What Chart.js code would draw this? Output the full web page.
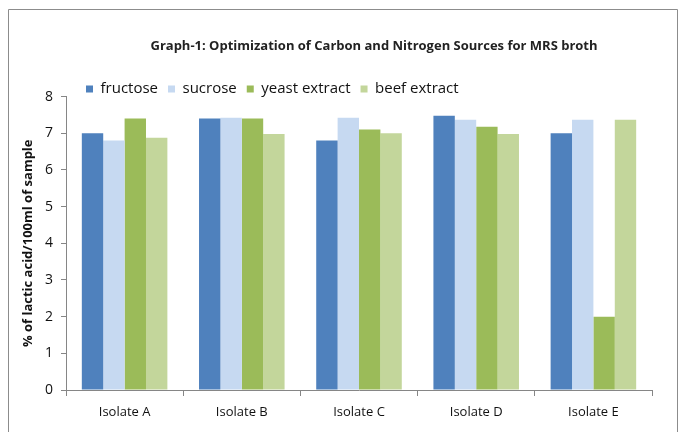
<!DOCTYPE html>
<html>
<head>
<meta charset="utf-8">
<script src="https://cdn.jsdelivr.net/npm/chart.js@4.4.0/dist/chart.umd.min.js"></script>
<style>
  html, body { margin: 0; padding: 0; background: #fff; }
  #wrap { width: 679px; height: 432px; }
</style>
</head>
<body>
<div id="wrap"><canvas id="my-chart"></canvas></div>
<script>
var isolates = ['Isolate A', 'Isolate B', 'Isolate C', 'Isolate D', 'Isolate E'];
var fructose = [7.0, 7.4, 6.8, 7.48, 7.0];
var sucrose = [6.8, 7.42, 7.42, 7.37, 7.37];
var yeastExtract = [7.4, 7.4, 7.1, 7.18, 2.0];
var beefExtract = [6.88, 6.98, 7.0, 6.98, 7.37];
var yTicks = [0, 1, 2, 3, 4, 5, 6, 7, 8];

var font = "'Open Sans', 'DejaVu Sans', sans-serif";
var axisGray = '#868686';

// frame round the picture and small nudges for title / legend
var framePlugin = {
    id: 'frame',
    afterLayout: function (chart) {
        chart.titleBlock.left += 38;
        chart.titleBlock.right += 38;
        chart.legend.left += 56;
        chart.legend.right += 56;
        chart.legend.top += 10;
        chart.legend.bottom += 10;
    },
    afterDraw: function (chart) {
        var c = chart.ctx;
        c.save();
        c.strokeStyle = '#8c8c8c';
        c.lineWidth = 1;
        c.beginPath();
        c.moveTo(8.5, 440);
        c.lineTo(8.5, 9.5);
        c.lineTo(677.5, 9.5);
        c.lineTo(677.5, 440);
        c.stroke();
        c.restore();
    }
};

var ctx = document.getElementById('my-chart');

var myChart = new Chart(ctx, {
    type: 'bar',
    data: {
        labels: isolates,
        datasets: [
            { label: 'fructose', data: fructose, backgroundColor: '#4F81BD' },
            { label: 'sucrose', data: sucrose, backgroundColor: '#C6D9F1' },
            { label: 'yeast extract', data: yeastExtract, backgroundColor: '#9BBB59' },
            { label: 'beef extract', data: beefExtract, backgroundColor: '#C3D69B' }
        ]
    },
    options: {
        responsive: true,
        maintainAspectRatio: false,
        animation: false,
        layout: { padding: { left: 20, right: 27, top: 38, bottom: 0 } },
        datasets: {
            bar: { categoryPercentage: 0.73, barPercentage: 1.0 }
        },
        plugins: {
            title: {
                display: true,
                text: 'Graph-1: Optimization of Carbon and Nitrogen Sources for MRS broth',
                color: '#222',
                font: { family: font, size: 13, weight: 'bold' },
                padding: { top: 0, bottom: 8 }
            },
            legend: {
                align: 'start',
                labels: {
                    boxWidth: 7,
                    boxHeight: 7,
                    padding: 10,
                    color: '#111',
                    font: { family: font, size: 15 }
                }
            },
            tooltip: { enabled: false }
        },
        scales: {
            x: {
                grid: {
                    offset: true,
                    drawOnChartArea: false,
                    drawTicks: true,
                    tickLength: 6,
                    color: axisGray
                },
                border: { color: axisGray },
                ticks: {
                    padding: 8,
                    color: '#111',
                    font: { family: font, size: 13 }
                },
                afterFit: function (scale) { scale.height = 42; }
            },
            y: {
                min: 0,
                max: 8,
                afterBuildTicks: function (scale) {
                    scale.ticks = yTicks.map(function (v) { return { value: v }; });
                },
                grid: {
                    drawOnChartArea: false,
                    drawTicks: true,
                    tickLength: 5,
                    color: axisGray
                },
                border: { color: axisGray },
                ticks: {
                    padding: 8,
                    color: '#111',
                    font: { family: font, size: 14 }
                },
                title: {
                    display: true,
                    text: '% of lactic acid/100ml of sample',
                    color: '#111',
                    font: { family: font, size: 13, weight: 'bold' },
                    padding: 0
                },
                afterFit: function (scale) { scale.width = 46; }
            }
        }
    },
    plugins: [framePlugin]
});
</script>
</body>
</html>
